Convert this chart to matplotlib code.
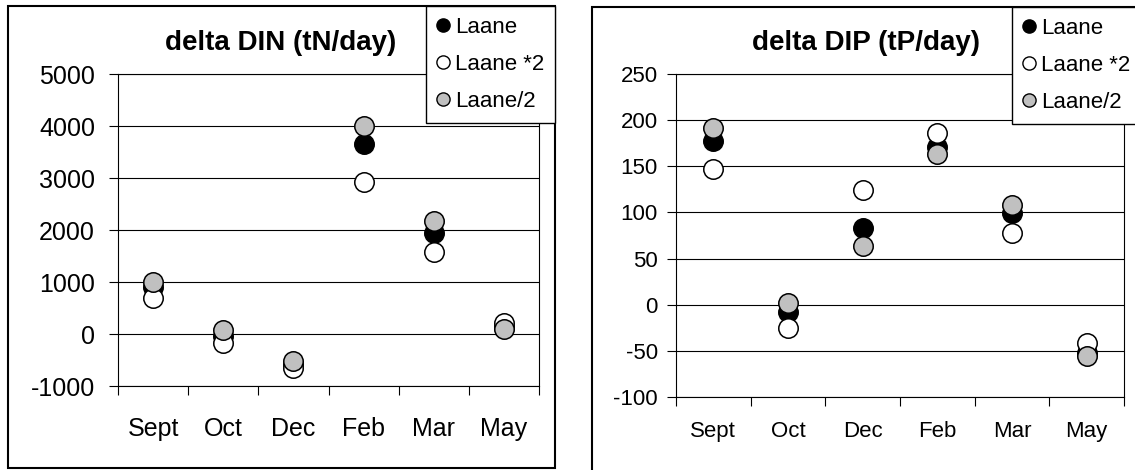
import matplotlib.pyplot as plt
from matplotlib.patches import Rectangle
from matplotlib.lines import Line2D

plt.rcParams['font.family'] = ['Liberation Sans', 'DejaVu Sans']

months = ["Sept", "Oct", "Dec", "Feb", "Mar", "May"]
series = ["Laane", "Laane *2", "Laane/2"]

# delta DIN (tN/day)
din_laane = [900, -30, -580, 3650, 1950, 130]
din_x2 = [690, -170, -650, 2920, 1580, 215]
din_half = [1000, 80, -520, 4000, 2170, 95]

# delta DIP (tP/day)
dip_laane = [177, -8, 83, 171, 99, -52]
dip_x2 = [147, -25, 124, 186, 78, -41]
dip_half = [192, 2, 64, 163, 108, -56]

W, H = 1135, 470
fig = plt.figure(figsize=(W / 100, H / 100), dpi=100)


def px(x0, y0, x1, y1):
    # pixel box -> figure fraction [left, bottom, width, height]
    return [x0 / W, 1 - y1 / H, (x1 - x0) / W, (y1 - y0) / H]


styles = [dict(color="black"), dict(color="white"), dict(color="#c0c0c0")]


def panel(box, values, yticks, fs_tick, ypad, xpad):
    ax = fig.add_axes(box)
    xs = [i + 0.5 for i in range(len(months))]
    for vals, st in zip(values, styles):
        ax.plot(xs, vals, linestyle="none", marker="o", markersize=14,
                markerfacecolor=st["color"], markeredgecolor="black",
                markeredgewidth=1.1, zorder=3)
    ax.set_xlim(0, len(months))
    ax.set_ylim(yticks[0], yticks[-1])
    ax.set_yticks(yticks)
    ax.set_yticklabels([str(v) for v in yticks])
    ax.set_xticks(range(len(months) + 1))
    ax.set_xticklabels([])
    ax.set_xticks(xs, minor=True)
    ax.set_xticklabels(months, minor=True)
    ax.tick_params(axis="x", which="major", direction="out", length=6.5,
                   width=0.8)
    ax.tick_params(axis="x", which="minor", length=0, pad=xpad,
                   labelsize=fs_tick)
    ax.tick_params(axis="y", direction="out", length=6.5, width=0.8,
                   pad=ypad, labelsize=fs_tick)
    ax.grid(axis="y", color="black", linewidth=0.8)
    ax.set_axisbelow(True)
    for s in ax.spines.values():
        s.set_linewidth(0.8)
        s.set_color("black")
    return ax


ax1 = panel(px(118, 74, 539, 386), [din_laane, din_x2, din_half],
            list(range(-1000, 5001, 1000)), 18, 10, 22)
ax2 = panel(px(676, 74, 1124, 397), [dip_laane, dip_x2, dip_half],
            list(range(-100, 251, 50)), 16, 6.5, 17.5)

# chart frames
fig.patches.append(Rectangle((8 / W, 1 - 468 / H), 547 / W, 462 / H,
                             transform=fig.transFigure, fill=False,
                             edgecolor="black", linewidth=1.5))
fig.patches.append(Rectangle((592 / W, 1 - 490 / H), 560 / W, 483 / H,
                             transform=fig.transFigure, fill=False,
                             edgecolor="black", linewidth=1.5))

fig.text(281 / W, 1 - 43 / H, "delta DIN (tN/day)", ha="center",
         va="center", fontsize=20, fontweight="bold")
fig.text(866 / W, 1 - 43 / H, "delta DIP (tP/day)", ha="center",
         va="center", fontsize=20, fontweight="bold")

handles = [Line2D([], [], linestyle="none", marker="o", markersize=9.5,
                  markerfacecolor=st["color"], markeredgecolor="black",
                  markeredgewidth=1.0) for st in styles]
for x0, y0 in [(426, 6), (1012, 7)]:
    leg = fig.legend(handles, series, loc="upper left",
                     bbox_to_anchor=(x0 / W, 1 - y0 / H), borderaxespad=0,
                     fontsize=16, frameon=True, fancybox=False,
                     edgecolor="black", framealpha=1, handlelength=0.5,
                     handletextpad=0.3, labelspacing=0.72, borderpad=0.5)
    leg.get_frame().set_linewidth(1.0)

fig.savefig("out.png", dpi=100)
